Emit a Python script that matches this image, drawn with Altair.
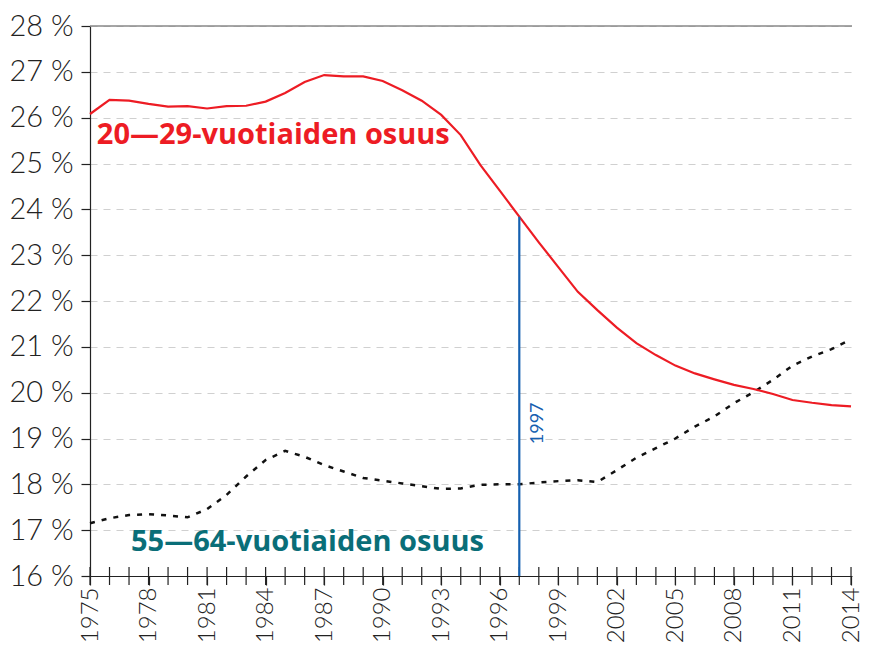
import altair as alt
import pandas as pd

years = list(range(1975, 2015))
share_20_29 = [26.08, 26.39, 26.37, 26.30, 26.24, 26.25, 26.20, 26.25, 26.26, 26.35,
               26.54, 26.78, 26.93, 26.90, 26.90, 26.80, 26.60, 26.37, 26.06, 25.62,
               24.97, 24.41, 23.84, 23.28, 22.74, 22.20, 21.80, 21.42, 21.08, 20.82,
               20.59, 20.42, 20.29, 20.17, 20.08, 19.97, 19.84, 19.78, 19.73, 19.70]
share_55_64 = [17.15, 17.26, 17.33, 17.35, 17.32, 17.28, 17.46, 17.77, 18.17, 18.53,
               18.73, 18.60, 18.42, 18.28, 18.14, 18.08, 18.02, 17.96, 17.90, 17.91,
               17.99, 18.00, 18.00, 18.04, 18.07, 18.09, 18.05, 18.31, 18.58, 18.79,
               19.00, 19.26, 19.48, 19.77, 20.01, 20.28, 20.59, 20.79, 20.95, 21.16]
y_ticks = list(range(16, 29))
label_years = list(range(1975, 2015, 3))
marker_year = 1997
red_label = "20—29-vuotiaiden osuus"
teal_label = "55—64-vuotiaiden osuus"

RED = "#ed1c24"
TEAL = "#0a6e78"
BLUE = "#1560b0"
FONT = "Lato"
BOLD_FONT = "Open Sans"

W, H = 762, 550

df = pd.DataFrame({"year": years, "a": share_20_29, "b": share_55_64})

xs = alt.Scale(domain=[1975, 2014.05], nice=False, zero=False)
ys = alt.Scale(domain=[16, 28], nice=False, zero=False)

xaxis = alt.Axis(
    values=label_years, format="d",
    labelAngle=-90, labelAlign="right", labelBaseline="middle",
    labelFont=FONT, labelFontSize=24, labelColor="#222", labelFontWeight=300,
    labelPadding=2, tickSize=9, tickColor="#222", domainColor="#222",
    tickWidth=1.2, domainWidth=1.2, grid=False, title=None, labelOverlap=False,
    labelFlush=False, labelBound=False,
)
yaxis = alt.Axis(
    values=y_ticks,
    labelExpr="datum.value + ' %'",
    labelFont=FONT, labelFontSize=29, labelColor="#222", labelFontWeight=300,
    labelPadding=8, tickSize=9, tickColor="#222", domainColor="#222",
    tickWidth=1.2, domainWidth=1.2,
    grid=True, gridColor="#d0d0d0", gridDash=[7, 6], gridWidth=1.2,
    title=None,
)

base = alt.Chart(df)

red = base.mark_line(color=RED, strokeWidth=2.2).encode(
    x=alt.X("year:Q", scale=xs, axis=xaxis),
    y=alt.Y("a:Q", scale=ys, axis=yaxis),
)
black = base.mark_line(color="#111", strokeWidth=2.5, strokeDash=[5, 7]).encode(
    x=alt.X("year:Q", scale=xs),
    y=alt.Y("b:Q", scale=ys),
)

top_df = pd.DataFrame({"v": [28]})
top_rule = alt.Chart(top_df).mark_rule(color="#888", strokeWidth=1.5).encode(
    y=alt.Y("v:Q", scale=ys),
)

tick_df = pd.DataFrame({"year": years})
all_ticks = alt.Chart(tick_df).mark_rule(color="#222", strokeWidth=1.2).encode(
    x=alt.X("year:Q", scale=xs),
    y=alt.value(H - 9),
    y2=alt.value(H + 9),
)

mk_df = pd.DataFrame({
    "year": [marker_year],
    "lo": [16],
    "hi": [share_20_29[years.index(marker_year)]],
})
marker = alt.Chart(mk_df).mark_rule(color=BLUE, strokeWidth=2.2).encode(
    x=alt.X("year:Q", scale=xs),
    y=alt.Y("lo:Q", scale=ys),
    y2="hi:Q",
)

mk_text_df = pd.DataFrame({"x": [marker_year + 0.95], "y": [19.33], "t": [str(marker_year)]})
mk_text = alt.Chart(mk_text_df).mark_text(
    color=BLUE, font=FONT, fontSize=18, angle=270, align="center", baseline="middle",
).encode(x=alt.X("x:Q", scale=xs), y=alt.Y("y:Q", scale=ys), text="t:N")

lab_df = pd.DataFrame({
    "x": [1975.35, 1977.1],
    "y": [25.63, 16.75],
    "t": [red_label, teal_label],
    "c": [RED, TEAL],
})
labels = alt.Chart(lab_df).mark_text(
    font=BOLD_FONT, fontSize=29, fontWeight="bold", align="left", baseline="middle",
).encode(
    x=alt.X("x:Q", scale=xs), y=alt.Y("y:Q", scale=ys), text="t:N",
    color=alt.Color("c:N", scale=None),
)

chart = alt.layer(top_rule, all_ticks, black, red, marker, mk_text, labels).properties(
    width=W, height=H,
    autosize="none",
    padding={"left": 82, "top": 18, "right": 14, "bottom": 69},
).configure_view(stroke=None)

chart.save("out.html", embed_options={"renderer": "svg", "actions": False})
